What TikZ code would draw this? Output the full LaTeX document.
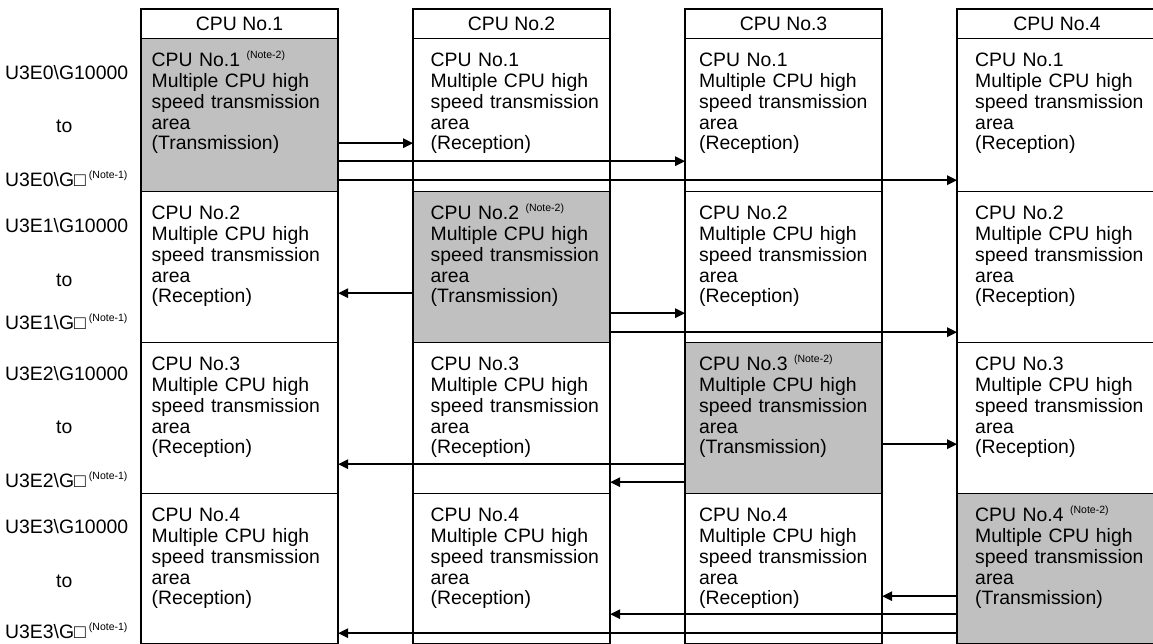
\documentclass[tikz,border=0pt]{standalone}
\usepackage{fontspec}
\setmainfont{Liberation Sans}
\usetikzlibrary{arrows.meta}
\definecolor{shade}{RGB}{192,192,192}
\newcommand\mynote[1]{\raisebox{8pt}{\fontsize{10.5}{11}\selectfont #1}}
\begin{document}
\begin{tikzpicture}[x=1pt,y=-1pt,
  font=\fontsize{19.4}{20.8}\selectfont,
  cellbox/.style={draw, line width=1.2pt, inner sep=0pt, anchor=north west},
  hdr/.style={cellbox, minimum height=29pt},
  txt/.style={anchor=base west, inner sep=0pt, text width=183pt, align=left},
  lbl/.style={anchor=base west, inner sep=0pt},
  outer/.style={line width=2pt},
  arr/.style={line width=1.8pt, -{Triangle[length=10pt,width=9.5pt]}}]
\useasboundingbox (0,0) rectangle (1153,644);

% column headers
\foreach \c/\x/\w in {1/141/196,2/413/196,3/685/196,4/957/199}{
  \node[hdr, minimum width=\w pt] (h\c) at (\x,9) {CPU No.\c};
}

% cells
\foreach \r/\y/\h in {1/38/153,2/191/151,3/342/151,4/493/150}{
  \foreach \c/\x/\w/\tx in {1/141/196/151.5,2/413/196/430.5,3/685/196/699,4/957/199/975}{
    \ifnum\c=\r
      \node[cellbox, fill=shade, minimum width=\w pt, minimum height=\h pt] (c\c\r) at (\x,\y) {};
      \node[txt] (t\c\r) at (\tx,\y+28.7) {CPU No.\r\ \mynote{(Note-2)}\\Multiple CPU high\\speed transmission\\area\\(Transmission)};
    \else
      \node[cellbox, minimum width=\w pt, minimum height=\h pt] (c\c\r) at (\x,\y) {};
      \node[txt] (t\c\r) at (\tx,\y+28.7) {CPU No.\r\\Multiple CPU high\\speed transmission\\area\\(Reception)};
    \fi
  }
}

% column outlines
\foreach \c in {1,2,3,4}{
  \draw[outer] (h\c.north west) rectangle (c\c4.south east);
}

% left labels
\foreach \r/\ya/\yb/\yc in {0/79.5/133/187, 1/233/287/329, 2/380/433/487, 3/533/587/638}{
  \node[lbl] (la\r) at (5,\ya) {U3E\r\textbackslash G10000};
  \node[lbl] (lb\r) at (56,\yb) {to};
  \node[lbl] (lc\r) at (5,\yc) {U3E\r\textbackslash G□\hspace{3pt}\mynote{(Note-1)}};
}

% transfers, row 1 (CPU No.1 transmits)
\draw[arr] ([yshift=49pt]c11.south east) -- ([yshift=49pt]c21.south west);
\draw[arr] ([yshift=31pt]c11.south east) -- ([yshift=31pt]c31.south west);
\draw[arr] ([yshift=12pt]c11.south east) -- ([yshift=12pt]c41.south west);
% row 2 (CPU No.2 transmits)
\draw[arr] ([yshift=50pt]c22.south west) -- ([yshift=50pt]c12.south east);
\draw[arr] ([yshift=30pt]c22.south east) -- ([yshift=30pt]c32.south west);
\draw[arr] ([yshift=11pt]c22.south east) -- ([yshift=11pt]c42.south west);
% row 3 (CPU No.3 transmits)
\draw[arr] ([yshift=50pt]c33.south east) -- ([yshift=50pt]c43.south west);
\draw[arr] ([yshift=30pt]c33.south west) -- ([yshift=30pt]c13.south east);
\draw[arr] ([yshift=12pt]c33.south west) -- ([yshift=12pt]c23.south east);
% row 4 (CPU No.4 transmits)
\draw[arr] ([yshift=48pt]c44.south west) -- ([yshift=48pt]c34.south east);
\draw[arr] ([yshift=30pt]c44.south west) -- ([yshift=30pt]c24.south east);
\draw[arr] ([yshift=11pt]c44.south west) -- ([yshift=11pt]c14.south east);
\end{tikzpicture}
\end{document}
